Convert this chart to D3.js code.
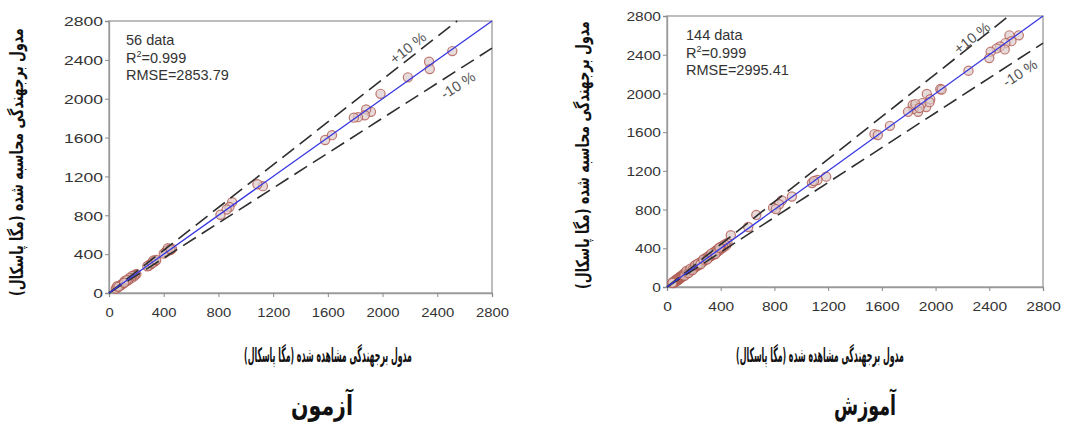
<!DOCTYPE html>
<html><head><meta charset="utf-8">
<script src="https://cdn.jsdelivr.net/npm/d3@7"></script>
<style>body{margin:0;background:#fff}svg{display:block}</style>
</head><body>
<svg id="c" width="1074" height="423"></svg>
<script>
// ---------- data ----------
const tickValues = [0, 400, 800, 1200, 1600, 2000, 2400, 2800];
const axisMax = 2800;
const bandFactors = [1.1, 0.9];
const bandLabels = ["+10 %", "-10 %"];
const xTitle = "مدول برجهندگی مشاهده شده (مگا پاسکال)";
const yTitle = "مدول برجهندگی محاسبه شده (مگا پاسکال)";
const panelTitles = ["آزمون", "آموزش"];
const statsTest = ["56 data", "0.999", "RMSE=2853.79"];
const statsTrain = ["144 data", "0.999", "RMSE=2995.41"];

// test set (observed, predicted)
const testObserved = [2510,2340,2345,2185,1985,1915,1880,1870,1820,1790,1630,1580,1125,1085,900,880,860,815,
  460,445,430,420,410,430,400,450,
  340,330,320,310,300,290,280,325,315,345,
  200,190,180,170,160,150,140,
  125,115,105,95,85,75,65,55,50,60,70,130,110];
const testPredicted = [2490,2380,2305,2220,2050,1865,1890,1830,1810,1805,1625,1575,1100,1120,935,885,860,805,
  455,440,445,430,415,460,405,450,
  330,320,315,300,295,280,275,335,310,340,
  195,185,170,175,150,155,130,
  120,125,100,90,80,70,60,50,45,70,65,135,105];

// training set (observed, predicted)
const trainObserved = [2620,2550,2565,2520,2480,2455,2515,2410,2400,2245,2035,2045,1935,1960,1930,1900,1870,1835,1830,1795,1850,1955,1880,1660,1545,1570,1185,1120,1080,1095,930,855,835,790,810,665,605,475,
  450,440,430,420,415,405,400,395,390,385,380,375,370,365,360,355,350,345,340,335,330,325,320,315,310,305,300,295,290,285,280,275,270,265,260,255,250,245,240,235,230,225,220,215,210,205,200,195,190,185,180,175,170,165,160,155,150,145,140,135,130,125,120,118,115,110,108,105,100,98,95,92,90,88,85,82,80,78,75,72,70,68,65,62,60,58,55,52,50,48,45,42,40,
  130,145,160,175,190,210,230,250,270,300,330,360,390];
const trainPredicted = [2600,2600,2540,2520,2485,2465,2455,2430,2365,2235,2045,2040,1995,1940,1860,1900,1810,1840,1880,1810,1890,1910,1850,1665,1580,1570,1140,1105,1075,1095,935,895,855,820,805,745,620,535,
  455,430,440,410,425,400,395,410,380,395,370,385,360,375,350,365,345,355,330,340,325,335,315,320,305,300,310,290,285,295,275,280,265,270,255,260,245,250,235,230,225,235,215,210,205,215,195,200,185,190,175,170,175,160,165,150,160,140,150,130,140,120,130,110,120,105,115,100,110,90,100,85,95,80,90,75,85,70,80,65,75,60,70,55,65,50,60,45,55,42,50,40,45,
  115,165,145,190,175,225,240,235,285,285,345,340,405];

// ---------- drawing ----------
const svg = d3.select("#c");
const latin = "'Liberation Sans', Arial, sans-serif";
const farsi = "'DejaVu Sans', sans-serif";

function fitText(sel, target) {
  const len = sel.node().getComputedTextLength();
  return len > 0 ? target / len : 1;
}

const panels = [
  {obs: testObserved, pred: testPredicted, stats: statsTest, x0: 109, x1: 492, y0: 293, y1: 21,
   ySx: 1.3, xSx: 1.1, statX: 126, statY: 45, yTitleX: 17, yTitleY: 162, xTitleX: 328, titleX: 322,
   bandLab: [[2186, 2522], [2552, 2139]]},
  {obs: trainObserved, pred: trainPredicted, stats: statsTrain, x0: 667, x1: 1043, y0: 287, y1: 16,
   ySx: 1.15, xSx: 1.15, statX: 686, statY: 40, yTitleX: 583, yTitleY: 155, xTitleX: 820, titleX: 865,
   bandLab: [[2271, 2573], [2629, 2211]]}
];

panels.forEach((p, pi) => {
  const x = d3.scaleLinear().domain([0, axisMax]).range([p.x0, p.x1]);
  const y = d3.scaleLinear().domain([0, axisMax]).range([p.y0, p.y1]);
  const g = svg.append("g");

  // frame
  g.append("rect").attr("x", p.x0).attr("y", p.y1).attr("width", p.x1 - p.x0).attr("height", p.y0 - p.y1)
    .attr("fill", "none").attr("stroke", "#9a9a9a").attr("stroke-width", 1.3);

  // axes
  const ya = g.append("g").attr("transform", `translate(${p.x0},0)`)
    .call(d3.axisLeft(y).tickValues(tickValues).tickSize(4).tickFormat(d3.format("d")));
  const xa = g.append("g").attr("transform", `translate(0,${p.y0})`)
    .call(d3.axisBottom(x).tickValues(tickValues).tickSize(4).tickFormat(d3.format("d")));
  [ya, xa].forEach(a => {
    a.select(".domain").attr("stroke", "#9a9a9a").attr("stroke-width", 1.3);
    a.selectAll(".tick line").attr("stroke", "#8a8a8a");
    a.selectAll(".tick text").attr("font-family", latin).attr("font-size", 13.5).attr("fill", "#333");
  });
  ya.selectAll(".tick text").each(function() {
    const t = d3.select(this);
    t.attr("x", null).attr("dy", null).attr("text-anchor", "end").attr("dominant-baseline", "central")
     .attr("transform", `translate(-6,0) scale(${p.ySx},1)`);
  });
  xa.selectAll(".tick text").each(function() {
    const t = d3.select(this);
    t.attr("y", null).attr("dy", null).attr("text-anchor", "middle").attr("dominant-baseline", "central")
     .attr("transform", `translate(0,19) scale(${p.xSx},1)`);
  });

  // points
  const pts = p.obs.map((v, i) => [v, p.pred[i]]);
  g.append("g").selectAll("circle").data(pts).join("circle")
    .attr("cx", d => x(d[0])).attr("cy", d => y(d[1])).attr("r", 4.6)
    .attr("fill", "#dccaca").attr("fill-opacity", 0.7)
    .attr("stroke", "#b05a50").attr("stroke-width", 1.2).attr("stroke-opacity", 0.8);

  // band lines
  bandFactors.forEach((f, bi) => {
    const xe = Math.min(axisMax, axisMax / f);
    g.append("line").attr("x1", x(0)).attr("y1", y(0)).attr("x2", x(xe)).attr("y2", y(xe * f))
      .attr("stroke", "#2e2e2e").attr("stroke-width", 1.6).attr("stroke-dasharray", "15,7");
    const ang = -Math.atan((y(0) - y(axisMax * f)) / (x(axisMax) - x(0))) * 180 / Math.PI;
    g.append("text").attr("font-family", latin).attr("font-size", 14.5).attr("fill", "#555")
      .attr("text-anchor", "middle").attr("dominant-baseline", "central")
      .attr("transform", `translate(${x(p.bandLab[bi][0])},${y(p.bandLab[bi][1])}) rotate(${ang})`)
      .text(bandLabels[bi]);
  });

  // 1:1 line
  g.append("line").attr("x1", x(0)).attr("y1", y(0)).attr("x2", x(axisMax)).attr("y2", y(axisMax))
    .attr("stroke", "#3535e0").attr("stroke-width", 1.3);

  // stats
  const st = g.append("g").attr("font-family", latin).attr("font-size", 14.5).attr("fill", "#333");
  st.append("text").attr("x", p.statX).attr("y", p.statY).text(p.stats[0]);
  const r2 = st.append("text").attr("x", p.statX).attr("y", p.statY + 17.5);
  r2.append("tspan").text("R");
  r2.append("tspan").attr("font-size", 9).attr("dy", -6).text("2");
  r2.append("tspan").attr("dy", 6).text("=" + p.stats[1]);
  st.append("text").attr("x", p.statX).attr("y", p.statY + 35).text(p.stats[2]);

  // y title
  const yt = svg.append("text").attr("font-family", farsi).attr("font-weight", "bold").attr("font-size", 18)
    .attr("direction", "rtl").attr("text-anchor", "middle").attr("dominant-baseline", "central").attr("fill", "#111")
    .text(yTitle);
  const ky = fitText(yt, 268);
  yt.attr("transform", `translate(${p.yTitleX},${p.yTitleY}) rotate(-90) scale(${ky},1)`);

  // x title
  const xt = svg.append("text").attr("font-family", farsi).attr("font-weight", "bold").attr("font-size", 20)
    .attr("direction", "rtl").attr("text-anchor", "middle").attr("dominant-baseline", "central").attr("fill", "#111")
    .text(xTitle);
  const kx = fitText(xt, 168);
  xt.attr("transform", `translate(${p.xTitleX},355) scale(${kx},1)`);

  // panel title
  const tt = svg.append("text").attr("font-family", farsi).attr("font-weight", "bold").attr("font-size", 28)
    .attr("direction", "rtl").attr("text-anchor", "middle").attr("dominant-baseline", "central").attr("fill", "#111")
    .text(panelTitles[pi]);
  const kt = fitText(tt, 62);
  tt.attr("transform", `translate(${p.titleX},405) scale(${kt},1)`);
});
</script>
</body></html>
